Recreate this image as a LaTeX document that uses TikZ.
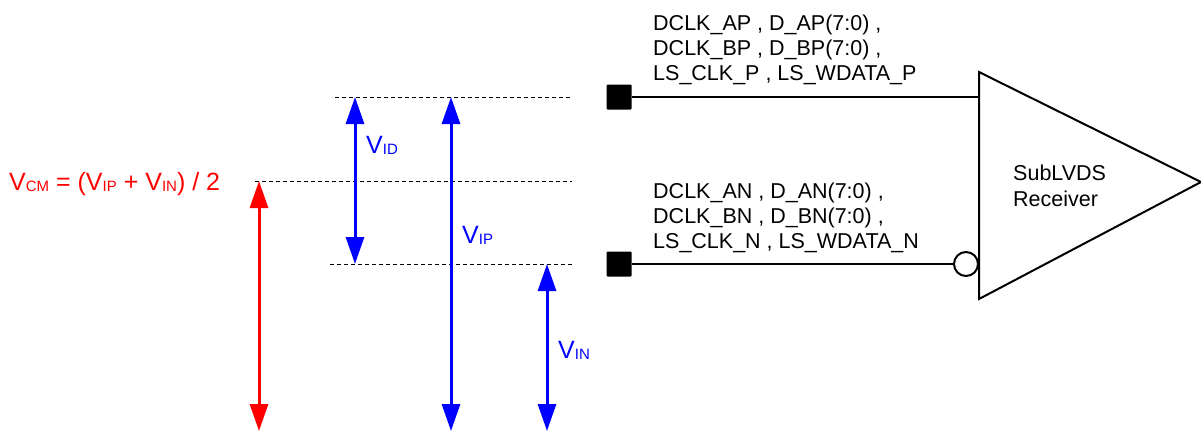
\documentclass[tikz,border=0pt]{standalone}
\usepackage{fontspec}
\setmainfont{Liberation Sans}
\usepackage{xcolor}
\usepackage{tikz}
\usetikzlibrary{arrows.meta}
\definecolor{vblue}{RGB}{0, 0, 255}
\definecolor{vred}{RGB}{255, 0, 0}
\newcommand{\subtxt}[1]{\raisebox{-1.5pt}{\fontsize{15}{15}\selectfont #1}}

\begin{document}
\begin{tikzpicture}[x=1pt,y=-1pt,
    level/.style={dash pattern=on 4pt off 3pt,line width=1pt},
    volt/.style={{Triangle[length=27pt,width=18pt]}-{Triangle[length=27pt,width=18pt]},line width=3pt},
    vlabel/.style={anchor=base west,inner sep=0pt,font=\fontsize{25}{25}\selectfont},
    sig/.style={anchor=north west,align=left,inner sep=0pt,font=\fontsize{21.5}{25}\selectfont},
    pin/.style={fill=black,minimum size=25pt,inner sep=0pt,rounded corners=1pt},
    wire/.style={line width=2pt}]
  \useasboundingbox (0,0) rectangle (1201,431);
  % voltage levels
  \coordinate (hiL) at (335,97);  \coordinate (hiR) at (572,97);
  \coordinate (cmL) at (255,181); \coordinate (cmR) at (572,181);
  \coordinate (loL) at (330,264); \coordinate (loR) at (572,264);
  \coordinate (gnd) at (0,431);
  \draw[level] (hiL) -- (hiR);
  \draw[level] (cmL) -- (cmR);
  \draw[level] (loL) -- (loR);
  \path[volt]
    (259,181) edge[vred] (gnd -| 259,0)
    (355,97) edge[vblue] (355,264)
    (451,97) edge[vblue] (gnd -| 451,0)
    (547,264) edge[vblue] (gnd -| 547,0);
  \node[vlabel,vred] (vcm) at (9,190) {V\subtxt{CM} = (V\subtxt{IP} + V\subtxt{IN}) / 2};
  \node[vlabel,vblue] (vid) at (366,153) {V\subtxt{ID}};
  \node[vlabel,vblue] (vip) at (462,243) {V\subtxt{IP}};
  \node[vlabel,vblue] (vin) at (558,358) {V\subtxt{IN}};
  % receiver
  \draw[wire] (979,72) coordinate (rxT) -- (979,299) coordinate (rxB) -- (1201,182) coordinate (rxO) -- cycle;
  \coordinate (rxP) at (979,97);
  \node[draw,wire,circle,inner sep=0pt,minimum size=24pt,anchor=east] (bub) at (979,264) {};
  \node[anchor=north west,align=left,inner sep=0pt,font=\fontsize{21.5}{26}\selectfont] (rxname) at (1013,165) {SubLVDS\\Receiver};
  \node[pin] (pinP) at (619,97) {};
  \node[pin] (pinN) at (619,264) {};
  \draw[wire] (pinP) -- (rxP);
  \draw[wire] (pinN) -- (bub);
  \node[sig] (sigP) at (653,14.5) {DCLK\_AP , D\_AP(7:0) ,\\DCLK\_BP , D\_BP(7:0) ,\\LS\_CLK\_P , LS\_WDATA\_P};
  \node[sig] (sigN) at (653,182.5) {DCLK\_AN , D\_AN(7:0) ,\\DCLK\_BN , D\_BN(7:0) ,\\LS\_CLK\_N , LS\_WDATA\_N};
\end{tikzpicture}
\end{document}
